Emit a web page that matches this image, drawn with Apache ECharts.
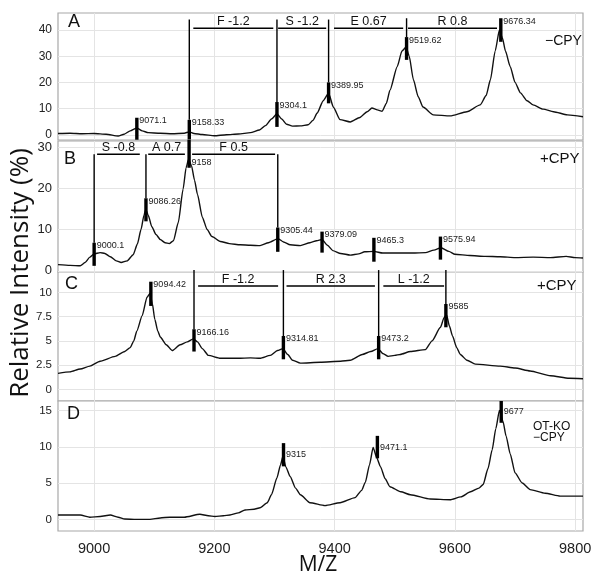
<!DOCTYPE html>
<html><head><meta charset="utf-8">
<script src="https://cdn.jsdelivr.net/npm/echarts@6/dist/echarts.min.js"></script>
<style>html,body{margin:0;padding:0;background:#fff}#c{width:601px;height:580px}</style>
</head><body><div id="c"></div>
<script>
// ---- data ----
const xTicks = [9000, 9200, 9400, 9600, 9800];
const yTicksA = [0, 10, 20, 30, 40];
const yTicksB = [0, 10, 20, 30];
const yTicksC = [0, 2.5, 5, 7.5, 10];
const yTicksD = [0, 5, 10, 15];

const specA = [[8940,0.5],[8960,0.6],[8980,0.4],[9000,0.5],[9020,0.2],[9040,-0.5],[9050,0.2],[9060,1.5],[9071,2.6],[9080,1.5],[9090,0.8],[9110,0.6],[9130,0.4],[9150,0.6],[9158,1.1],[9166,0.5],[9180,0.1],[9200,-0.4],[9220,0],[9240,0.3],[9260,0.8],[9275,1.8],[9285,3.5],[9295,6],[9304,8],[9312,6],[9320,4],[9330,3.3],[9343,3.4],[9356,3.8],[9364,5.5],[9371,8.3],[9381,13],[9390,15.9],[9398,10.5],[9409,5.8],[9426,4.9],[9442,6.6],[9454,8.8],[9462,10.2],[9471,9.5],[9479,9.0],[9486,12],[9492,17],[9504,26],[9512,32],[9519,33.5],[9524,30],[9531,21],[9539,14.5],[9547,10.6],[9564,7.6],[9592,7.2],[9620,8.8],[9642,11.4],[9652,15],[9659,21],[9667,32],[9674,40],[9679,37],[9684,32],[9692,26],[9700,20],[9709,16],[9720,13],[9730,11.4],[9747,9.8],[9764,8.8],[9787,7.6],[9813,6.9]];
const specB = [[8940,1.5],[8960,1.3],[8977,1.2],[8985,2],[8993,3.3],[9000,4.1],[9010,4.4],[9018,4.2],[9027,3.4],[9037,2.4],[9045,2],[9055,2.4],[9065,3.9],[9072,6.5],[9078,10],[9083,13.5],[9086,14.9],[9090,13.5],[9096,10.7],[9103,8.8],[9110,7.6],[9118,6.8],[9125,6.6],[9132,7.3],[9140,11.7],[9148,19.8],[9153,25],[9157,27],[9162,25.5],[9167,22],[9172,18.5],[9180,13],[9188,10],[9196,8.3],[9210,7.1],[9225,6.6],[9243,6.3],[9260,6.2],[9276,6.1],[9290,6.8],[9306,7.8],[9315,7],[9326,6.3],[9343,6.1],[9359,6.8],[9370,7.3],[9379,7.6],[9388,6.2],[9397,4.9],[9410,4.2],[9426,3.8],[9440,4.1],[9450,4.6],[9465,4.7],[9480,4.3],[9500,4.3],[9530,4.3],[9551,4.4],[9565,5],[9577,5.6],[9590,4.7],[9600,4.0],[9625,3.7],[9650,3.5],[9675,3.4],[9700,3.2],[9730,3.3],[9759,3.2],[9785,3.5],[9800,3.2],[9813,3.1]];
const specC = [[8940,1.65],[8960,1.8],[8977,2.1],[8993,2.4],[9010,2.9],[9035,3.4],[9051,3.9],[9060,4.3],[9066,5],[9071,6],[9080,7.6],[9088,9.5],[9093,9.9],[9097,8.8],[9101,7.2],[9106,6],[9110,5.4],[9120,4.6],[9130,4.0],[9143,4.6],[9155,4.9],[9165,5.2],[9172,4.9],[9180,4.2],[9190,3.5],[9210,3.2],[9240,3.2],[9260,3.25],[9276,3.2],[9293,3.5],[9305,4.0],[9314,4.2],[9322,3.6],[9330,3.0],[9343,2.7],[9376,2.8],[9410,2.9],[9426,3.0],[9446,3.6],[9460,3.9],[9472,4.2],[9480,3.7],[9489,3.4],[9500,3.5],[9509,3.6],[9526,3.9],[9551,4.1],[9562,5.0],[9576,6.4],[9582,7.4],[9586,7.7],[9591,6.5],[9596,5.5],[9603,4.3],[9609,3.6],[9620,3.0],[9634,2.6],[9675,2.4],[9700,2.2],[9725,1.9],[9759,1.4],[9790,1.15],[9813,1.1]];
const specD = [[8940,0.6],[8960,0.6],[8977,0.6],[8993,0.3],[9010,0.4],[9027,0.6],[9040,0.3],[9051,0.05],[9070,0.0],[9093,0.0],[9110,0.2],[9126,0.3],[9150,0.3],[9176,0.7],[9190,0.5],[9201,0.4],[9215,0.5],[9226,0.6],[9240,0.9],[9251,1.3],[9266,1.4],[9276,1.6],[9288,2.3],[9295,3.4],[9304,5.7],[9310,7.5],[9314,8.7],[9319,7.2],[9326,5.9],[9335,4.3],[9343,3.4],[9359,2.3],[9384,1.9],[9409,2.3],[9434,3.0],[9445,4.0],[9451,5.1],[9458,7.5],[9464,9.9],[9470,8.5],[9476,7.3],[9484,5.6],[9492,4.5],[9510,3.8],[9526,3.4],[9559,2.8],[9592,2.7],[9610,3.1],[9626,3.8],[9640,4.3],[9647,4.8],[9655,7],[9662,9.6],[9668,12.5],[9674,15],[9680,13.5],[9685,11.5],[9692,9],[9700,6.4],[9712,5],[9725,4.1],[9750,3.6],[9775,3.2],[9813,3.2]];

// peak markers: [m/z, thin line top (or null), thick top, thick bottom, label]
const peaksA = [[9071.1,null,6.5,-1.9,'9071.1'],[9158.33,44,5.7,-1.8,'9158.33'],[9304.1,44,12.5,3,'9304.1'],[9389.95,44,20,12,'9389.95'],[9519.62,44.5,37.3,28.6,'9519.62'],[9676.34,null,44.5,35.5,'9676.34']];
const peaksB = [[9000.1,28.3,6.8,1.2,'9000.1'],[9086.26,28.3,17.6,12,'9086.26'],[9158,null,31.8,25,'9158'],[9305.44,28.3,10.5,4.6,'9305.44'],[9379.09,null,9.5,4.4,'9379.09'],[9465.3,null,8,2.2,'9465.3'],[9575.94,null,8.3,2.7,'9575.94']];
const peaksC = [[9094.42,null,11.1,8.6,'9094.42'],[9166.16,12.3,6.2,3.9,'9166.16'],[9314.81,12.3,5.5,3.1,'9314.81'],[9473.2,12.3,5.5,3.1,'9473.2'],[9585,12.3,8.8,6.4,'9585']];
const peaksD = [[9315,null,10.5,7.3,'9315'],[9471.1,null,11.5,8.4,'9471.1'],[9677,null,16.3,13.3,'9677']];

// brackets: [label, from m/z, to m/z, level]
const bracketsA = [['F -1.2',9165,9298,40.7],['S -1.2',9306,9386,40.7],['E 0.67',9399,9514,40.7],['R 0.8',9522,9670,40.7]];
const bracketsB = [['S -0.8',9005,9076,28.3],['A 0.7',9090,9151,28.3],['F 0.5',9163,9301,28.3]];
const bracketsC = [['F -1.2',9173,9306,10.65],['R 2.3',9320,9467,10.65],['L -1.2',9481,9582,10.65]];
const bracketsD = [];

const panelLetters = ['A','B','C','D'];
const yTitle = 'Relative Intensity (%)';
const xTitle = 'M/Z';

// ---- layout ----
const panels = [
  {top:13, height:127, min:-2, max:46.5, ticks:yTicksA, spec:specA, peaks:peaksA, br:bracketsA, fs:12, mid:false},
  {top:141, height:131, min:-0.3, max:31.5, ticks:yTicksB, spec:specB, peaks:peaksB, br:bracketsB, fs:13, mid:false},
  {top:272, height:129, min:-1.2, max:12.1, ticks:yTicksC, spec:specC, peaks:peaksC, br:bracketsC, fs:11.5, mid:false},
  {top:401, height:130, min:-1.6, max:16.3, ticks:yTicksD, spec:specD, peaks:peaksD, br:bracketsD, fs:11.5, mid:true}
];
const SANS = 'Liberation Sans, Arial, sans-serif';

const grid = [], xAxis = [], yAxis = [], series = [];
panels.forEach((p, i) => {
  grid.push({left:58, right:18, top:p.top, height:p.height, show:true, borderColor:'#a8a8a8', borderWidth:1.2, backgroundColor:'#fff'});
  xAxis.push({type:'value', gridIndex:i, min:8940, max:9813,
    axisLine:{show:false}, axisTick:{show:false, customValues:xTicks},
    axisLabel:{show:i===3, customValues:xTicks, formatter:v => String(v), fontSize:14.5, color:'#222', fontFamily:SANS, margin:10},
    splitLine:{show:true, lineStyle:{color:'#e4e4e4', width:1}}});
  yAxis.push({type:'value', gridIndex:i, min:p.min, max:p.max,
    axisLine:{show:false}, axisTick:{show:false, customValues:p.ticks},
    axisLabel:{customValues:p.ticks, fontSize:p.fs, color:'#222', fontFamily:SANS, margin:6},
    splitLine:{show:true, lineStyle:{color:'#e4e4e4', width:1}}});
  series.push({type:'line', xAxisIndex:i, yAxisIndex:i, data:p.spec, showSymbol:false, silent:true,
    smooth:0.2, smoothMonotone:'x',
    lineStyle:{color:'#111', width:1.4}, z:3});
  const peaks = p.peaks, pmax = p.max, mid = p.mid;
  series.push({type:'custom', xAxisIndex:i, yAxisIndex:i, clip:false, silent:true, z:5,
    data: peaks.map(q => [q[0], q[2]]),
    renderItem: (params, api) => {
      const q = peaks[params.dataIndex];
      const t = api.coord([q[0], q[2]]), b = api.coord([q[0], q[3]]);
      const ch = [];
      if (q[1] != null) {
        const u = api.coord([q[0], q[1]]);
        ch.push({type:'line', shape:{x1:u[0], y1:u[1], x2:t[0], y2:t[1]}, style:{stroke:'#000', lineWidth:1.4}});
      }
      ch.push({type:'line', shape:{x1:t[0], y1:t[1], x2:b[0], y2:b[1]}, style:{stroke:'#000', lineWidth:3.4}});
      let ly = t[1] + 3;
      if (mid) ly = (t[1] + b[1]) / 2;
      else if (q[2] >= pmax) ly = b[1] - 5;
      ch.push({type:'text', x:t[0] + 2.5, y:ly, style:{text:q[4], fill:'#222', fontSize:9, fontFamily:SANS, align:'left', verticalAlign:'middle'}});
      return {type:'group', children:ch};
    }});
  const br = p.br;
  if (br.length) series.push({type:'custom', xAxisIndex:i, yAxisIndex:i, clip:false, silent:true, z:5,
    data: br.map(q => [q[1], q[3]]),
    renderItem: (params, api) => {
      const q = br[params.dataIndex];
      const a = api.coord([q[1], q[3]]), c = api.coord([q[2], q[3]]);
      return {type:'group', children:[
        {type:'line', shape:{x1:a[0], y1:a[1], x2:c[0], y2:c[1]}, style:{stroke:'#000', lineWidth:1.4}},
        {type:'text', x:(a[0]+c[0])/2, y:a[1]-7, style:{text:q[0], fill:'#111', fontSize:12.5, fontFamily:SANS, align:'center', verticalAlign:'middle'}}
      ]};
    }});
});

const letterPos = [[68,23],[64,160],[65,285],[67,415]];
const graphic = [];
panelLetters.forEach((L, i) => graphic.push({type:'text', z:100, left:letterPos[i][0], top:letterPos[i][1]-10, style:{text:L, fontSize:18, fontFamily:SANS, fill:'#111'}}));
graphic.push({type:'text', z:100, left:545, top:34, style:{text:'\u2212CPY', fontSize:14, fontFamily:SANS, fill:'#111'}});
graphic.push({type:'text', z:100, left:540, top:151, style:{text:'+CPY', fontSize:15, fontFamily:SANS, fill:'#111'}});
graphic.push({type:'text', z:100, left:537, top:278, style:{text:'+CPY', fontSize:15, fontFamily:SANS, fill:'#111'}});
graphic.push({type:'text', z:100, left:533, top:421, style:{text:'OT-KO\n\u2212CPY', fontSize:12, lineHeight:11, fontFamily:SANS, fill:'#111'}});
graphic.push({type:'text', z:100, x:21, y:273, rotation:Math.PI/2, style:{text:yTitle, fontSize:26, fontFamily:'Open Sans, sans-serif', fill:'#111', align:'center', verticalAlign:'middle'}});
graphic.push({type:'text', z:100, x:318, y:565, style:{text:xTitle, fontSize:21, fontFamily:'Open Sans, sans-serif', fill:'#111', align:'center', verticalAlign:'middle'}});

const chart = echarts.init(document.getElementById('c'), null, {renderer:'canvas'});
chart.setOption({animation:false, backgroundColor:'#fff', grid, xAxis, yAxis, series, graphic});
</script></body></html>
